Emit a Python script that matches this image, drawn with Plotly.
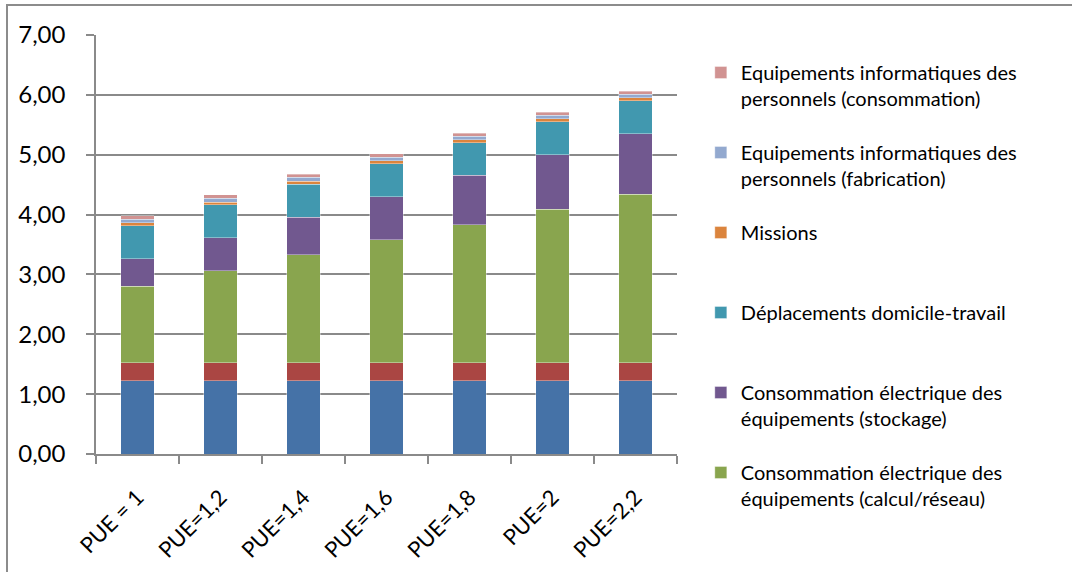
import plotly.graph_objects as go

categories = ["PUE = 1", "PUE=1,2", "PUE=1,4", "PUE=1,6", "PUE=1,8", "PUE=2", "PUE=2,2"]

fab_calcul = [1.22, 1.22, 1.22, 1.22, 1.22, 1.22, 1.22]
fab_stockage = [0.305, 0.305, 0.305, 0.305, 0.305, 0.305, 0.305]
conso_calcul = [1.28, 1.535, 1.80, 2.055, 2.305, 2.565, 2.815]
conso_stockage = [0.455, 0.55, 0.63, 0.72, 0.825, 0.91, 1.01]
deplacements = [0.55, 0.55, 0.555, 0.55, 0.545, 0.55, 0.55]
missions = [0.05, 0.05, 0.05, 0.05, 0.05, 0.05, 0.05]
perso_fabrication = [0.06, 0.06, 0.06, 0.06, 0.06, 0.06, 0.06]
perso_consommation = [0.06, 0.06, 0.05, 0.06, 0.05, 0.05, 0.05]

series = [
    ("Fabrication des équipements (calcul/réseau)", fab_calcul, "#4572A7", False),
    ("Fabrication des équipements (stockage)", fab_stockage, "#AA4643", False),
    ("Consommation électrique des<br>équipements (calcul/réseau)", conso_calcul, "#89A54E", True),
    ("Consommation électrique des<br>équipements (stockage)", conso_stockage, "#71588F", True),
    ("Déplacements domicile-travail<br>&nbsp;", deplacements, "#4198AF", True),
    ("Missions<br>&nbsp;", missions, "#DB843D", True),
    ("Equipements informatiques des<br>personnels (fabrication)", perso_fabrication, "#93A9CF", True),
    ("Equipements informatiques des<br>personnels (consommation)", perso_consommation, "#D19392", True),
]

fig = go.Figure()
n = len(series)
for i, (name, vals, color, show) in enumerate(series):
    fig.add_trace(go.Bar(
        x=categories, y=vals, name=name, legendgroup="g%d" % i,
        legendrank=1000 + (n - i), showlegend=show,
        marker=dict(color=color, line=dict(color="rgba(255,255,255,0.45)", width=0.8)),
    ))

FONT = "Lato"
fig.update_layout(
    barmode="stack",
    bargap=0.6,
    width=1072, height=572,
    margin=dict(l=96, r=395, t=35, b=118, autoexpand=False),
    paper_bgcolor="white", plot_bgcolor="white",
    separators=", ",
    font=dict(family=FONT, size=20, color="black"),
    legend=dict(
        x=1.041, xanchor="left", yref="container", y=1 - 53 / 572, yanchor="top",
        traceorder="grouped", tracegroupgap=25, maxheight=1.0,
        valign="top", font=dict(family=FONT, size=20, color="black"),
        bgcolor="rgba(0,0,0,0)",
    ),
    showlegend=True,
)
fig.update_yaxes(
    range=[0, 7], dtick=1, tickformat=".2f", automargin=False,
    showgrid=True, gridcolor="#8A8A8A", gridwidth=1.5,
    showline=True, linecolor="#8A8A8A", linewidth=1.5,
    ticks="outside", ticklen=8, tickcolor="#8A8A8A", tickwidth=1.5,
    ticklabelstandoff=16,
    tickfont=dict(family=FONT, size=24, color="black"),
    zeroline=False,
)
fig.update_xaxes(
    automargin=False,
    showline=True, linecolor="#8A8A8A", linewidth=1.5,
    ticks="outside", tickson="boundaries", ticklen=8, tickcolor="#8A8A8A", tickwidth=1.5,
    tickangle=-45, ticklabelstandoff=20,
    tickfont=dict(family=FONT, size=22, color="black"),
)
fig.add_shape(
    type="rect", xref="paper", yref="paper",
    x0=(7 - 96) / 581, x1=(1300 - 96) / 581,
    y0=(454 - 700) / 419, y1=(454 - 5) / 419,
    line=dict(color="#8C8C8C", width=2), fillcolor="rgba(0,0,0,0)", layer="below",
)

fig.write_html(
    "out.html",
    config={"displayModeBar": False},
    post_script="document.body.style.margin='0';document.body.style.overflow='hidden';",
)
